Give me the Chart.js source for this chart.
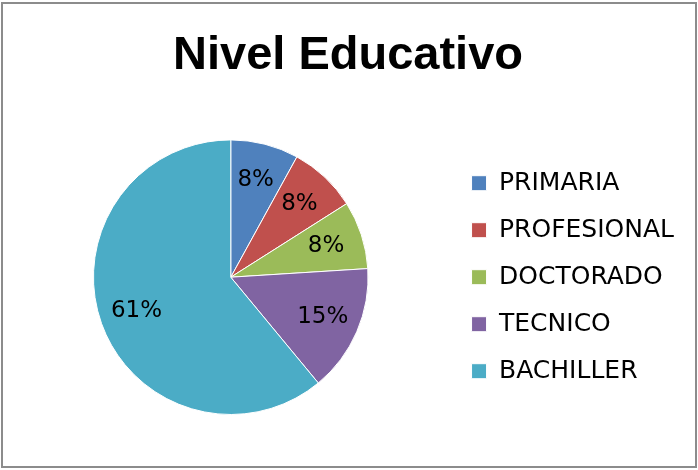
<!DOCTYPE html>
<html>
<head>
<meta charset="utf-8">
<script src="https://cdn.jsdelivr.net/npm/chart.js@4/dist/chart.umd.min.js"></script>
<style>
  html, body { margin: 0; padding: 0; background: #fff; }
  #wrap { position: relative; width: 698px; height: 470px; }
  #frame {
    position: absolute; left: 1px; top: 2px; width: 692px; height: 462px;
    border: 2px solid #8c8c8c; pointer-events: none;
  }
</style>
</head>
<body>
<div id="wrap">
  <canvas id="pieChart" width="698" height="470"></canvas>
  <div id="frame"></div>
</div>
<script>
// Datos
const categorias = ['PRIMARIA', 'PROFESIONAL', 'DOCTORADO', 'TECNICO', 'BACHILLER'];
const porcentajes = [8, 8, 8, 15, 61];
const colores = ['#4F81BD', '#C0504D', '#9BBB59', '#8064A2', '#4BACC6'];

const fuente = "'DejaVu Sans', sans-serif";
const fuenteTitulo = "'Liberation Sans', Arial, sans-serif";

// Etiquetas de porcentaje dentro de cada porcion
const etiquetasPlugin = {
    id: 'etiquetas',
    afterDatasetsDraw: function (chart) {
        const ctx = chart.ctx;
        const meta = chart.getDatasetMeta(0);
        const data = chart.data.datasets[0].data;
        const total = data.reduce((a, b) => a + b, 0);
        ctx.save();
        ctx.font = '23px ' + fuente;
        ctx.fillStyle = '#000';
        ctx.textAlign = 'center';
        ctx.textBaseline = 'middle';
        meta.data.forEach(function (arc, i) {
            const p = arc.getProps(['x', 'y', 'startAngle', 'endAngle', 'outerRadius'], true);
            const mid = (p.startAngle + p.endAngle) / 2;
            const r = p.outerRadius * 0.73;
            const pct = Math.round((data[i] / total) * 100) + '%';
            ctx.fillText(pct, p.x + Math.cos(mid) * r, p.y + Math.sin(mid) * r);
        });
        ctx.restore();
    },
};

new Chart(document.getElementById('pieChart'), {
    type: 'pie',
    data: {
        labels: categorias,
        datasets: [{
            data: porcentajes,
            backgroundColor: colores,
            borderColor: '#ffffff',
            borderWidth: 1,
        }],
    },
    options: {
        responsive: false,
        animation: false,
        layout: {
            padding: { left: 12, right: 14, top: 28, bottom: 55 },
        },
        plugins: {
            title: {
                display: true,
                text: 'Nivel Educativo',
                color: '#000',
                font: { family: fuenteTitulo, size: 47, weight: 'bold', lineHeight: 1.2 },
                padding: { top: 0, bottom: 55 },
            },
            legend: {
                position: 'right',
                fullSize: false,
                labels: {
                    color: '#000',
                    boxWidth: 15,
                    boxHeight: 15,
                    padding: 22,
                    font: { family: fuente, size: 25 },
                },
            },
            tooltip: { enabled: false },
        },
    },
    plugins: [etiquetasPlugin],
});
</script>
</body>
</html>
